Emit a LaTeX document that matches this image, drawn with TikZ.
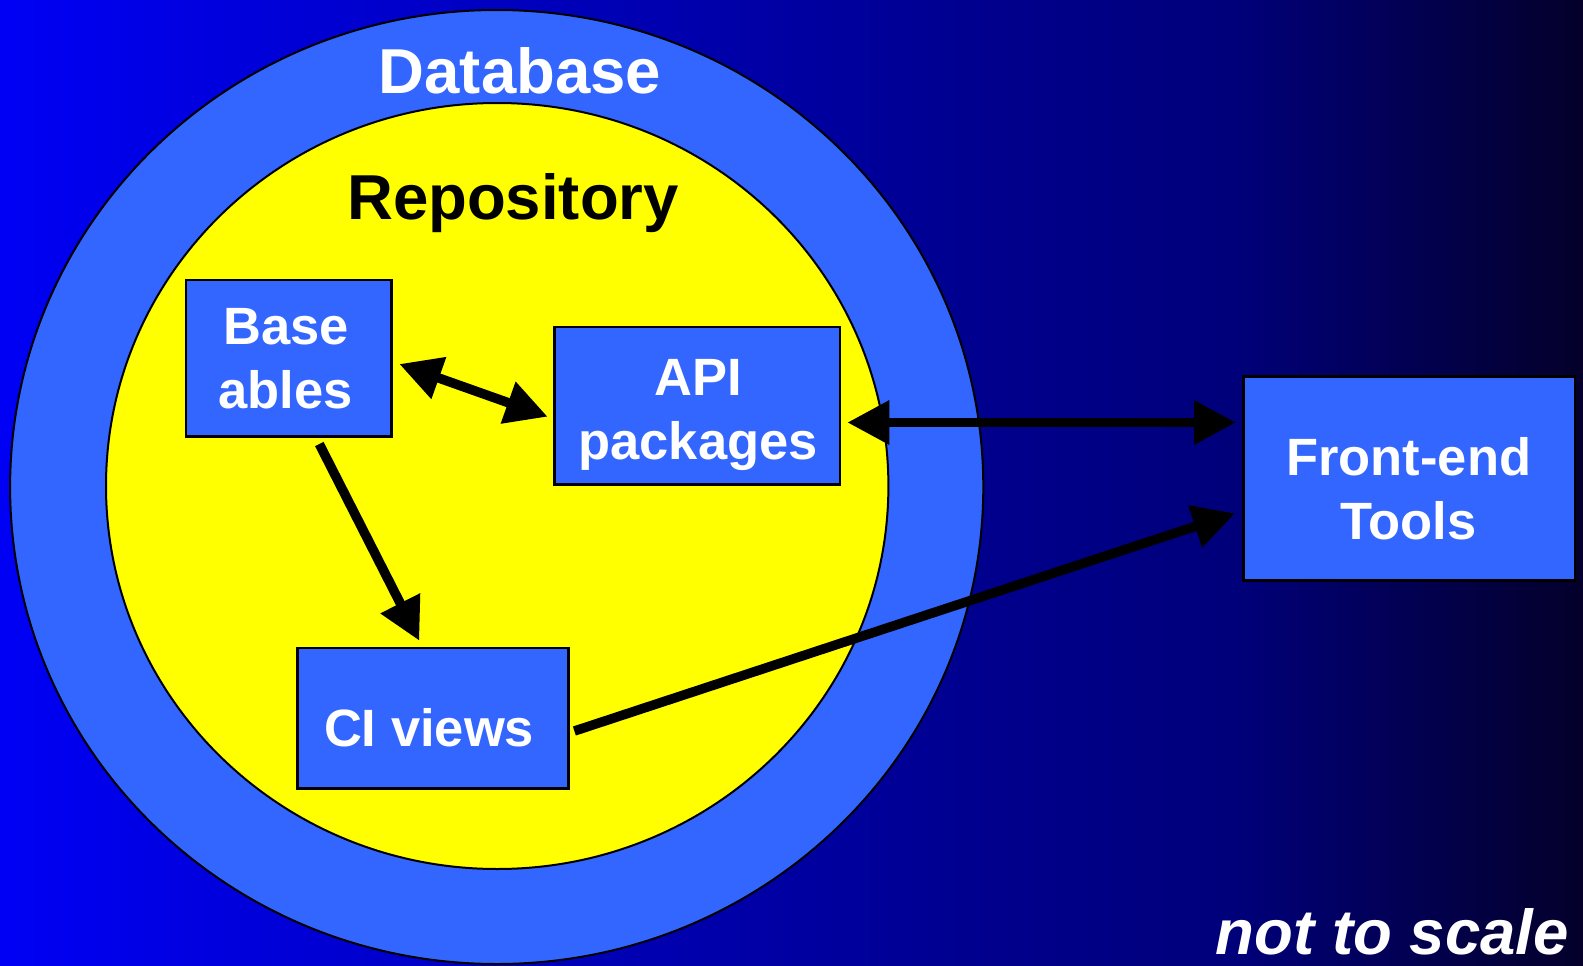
\documentclass[tikz,border=0pt]{standalone}
\usepackage{fontspec}
\setmainfont{Liberation Sans}
\usetikzlibrary{arrows.meta}

\definecolor{ringblue}{RGB}{51,102,255}
\definecolor{repoyellow}{RGB}{255,255,0}
\definecolor{bgA}{RGB}{0,0,245}
\definecolor{bgB}{RGB}{0,0,140}
\definecolor{bgC}{RGB}{0,0,122}
\definecolor{bgD}{RGB}{4,0,42}

% left-to-right background fade (25bp..75bp spans the filled path)
\pgfdeclarehorizontalshading{bgshade}{100bp}{color(0bp)=(bgA); color(25bp)=(bgA); color(56.5bp)=(bgB); color(64bp)=(bgC); color(75bp)=(bgD); color(100bp)=(bgD)}

\begin{document}
\begin{tikzpicture}[x=1pt,y=-1pt,
  box/.style={draw=black, line width=2.7pt, fill=ringblue, outer sep=0pt, inner sep=0pt},
  boxtext/.style={text=white, font=\fontsize{52.5}{64}\selectfont\bfseries, align=center, inner sep=0pt},
  title/.style={font=\fontsize{63.5}{76}\selectfont\bfseries, inner sep=0pt, anchor=base},
  link/.style={line width=9.5pt, -{Triangle[length=42pt,width=42pt]}},
  duallink/.style={line width=9.5pt, {Triangle[length=42pt,width=42pt]}-{Triangle[length=42pt,width=42pt]}}]

\useasboundingbox (0,0) rectangle (1583,966);
\fill[shading=bgshade] (0,0) rectangle (1583,966);

% database ring and repository
\draw[line width=2pt, fill=ringblue] (496.7,487) ellipse [x radius=486.6, y radius=477];
\draw[line width=2pt, fill=repoyellow] (497.2,486) ellipse [x radius=391.2, y radius=383];

\node[title, text=white] (dblabel) at (520,93) {Database};
\node[title, text=black] (repolabel) at (513,219) {Repository};

% component boxes
\node[box, minimum width=205.7pt, minimum height=156.7pt] (base) at (288.85,358.35) {};
\node[box, minimum width=285.7pt, minimum height=157.5pt] (api) at (697.15,405.85) {};
\node[box, minimum width=270.6pt, minimum height=140.4pt] (ci) at (433.1,718.3) {};
\node[box, minimum width=331.7pt, minimum height=203.9pt] (fe) at (1409.15,478.55) {};

\node[boxtext] (basetext) at ([xshift=-3pt,yshift=-0.8pt]base.center) {Base\\ables};
\node[boxtext] (apitext) at ([xshift=1pt,yshift=-8.8pt]api.center) {API\\packages};
\node[boxtext] (citext) at ([xshift=-4pt,yshift=-9.6pt]ci.center) {CI views};
\node[boxtext] (fetext) at ([xshift=-0.5pt,yshift=-10.3pt]fe.center) {Front-end\\Tools};

% connectors
\draw[duallink] ([xshift=7.6pt,yshift=-5.65pt]base.east) -- ([xshift=-6.6pt,yshift=-10.85pt]api.west);
\draw[duallink] ([xshift=7.3pt,yshift=-16.65pt]api.east) -- ([xshift=-7.3pt,yshift=56.05pt]fe.west);
\draw[link] ([xshift=30.45pt,yshift=-7.3pt]base.south) -- ([xshift=-13.8pt,yshift=7.4pt]ci.north);
\draw[link] ([xshift=6pt,yshift=-12.7pt]ci.east) -- ([xshift=-8.3pt,yshift=-34.75pt]fe.west);

\node[font=\fontsize{63.5}{76}\selectfont\bfseries\itshape, text=white, inner sep=0pt, anchor=base east] (scalenote) at (1569,954) {not to scale};
\end{tikzpicture}
\end{document}
